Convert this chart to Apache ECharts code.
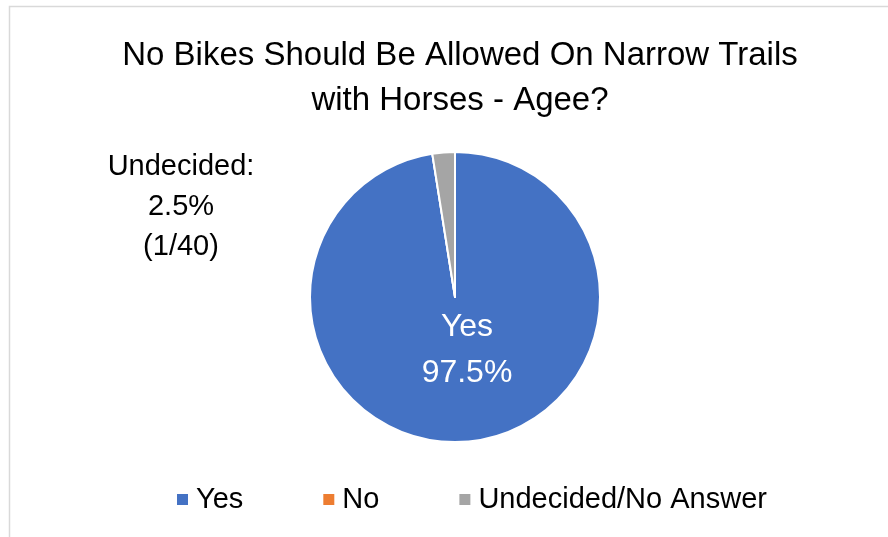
<!DOCTYPE html>
<html><head><meta charset="utf-8">
<script src="https://cdn.jsdelivr.net/npm/echarts@6/dist/echarts.min.js"></script>
<style>html,body{margin:0;padding:0;background:#fff}#c{width:888px;height:537px}</style>
</head><body><div id="c"></div>
<script>
const categories = ['Yes', 'No', 'Undecided/No Answer'];
const values = [39, 0, 1];
const colors = ['#4472C4', '#ED7D31', '#A5A5A5'];
const titleText = 'No Bikes Should Be Allowed On Narrow Trails\nwith Horses - Agee?';
const total = values.reduce((a, b) => a + b, 0);

const chart = echarts.init(document.getElementById('c'));
const FONT = 'Liberation Sans';
chart.setOption({
  animation: false,
  graphic: [{
    type: 'rect', shape: {x: 9.5, y: 6.5, width: 900, height: 600},
    style: {fill: 'none', stroke: '#d9d9d9', lineWidth: 1.5}, silent: true, z: -1
  }],
  title: {
    text: titleText, left: 455, textAlign: 'center', top: 28,
    textStyle: {fontFamily: FONT, fontSize: 33, fontWeight: 'normal', color: '#000', lineHeight: 45}
  },
  legend: {
    bottom: 18, left: 170, itemWidth: 13, itemHeight: 13, itemGap: 78, icon: 'rect',
    textStyle: {fontFamily: FONT, fontSize: 29, color: '#000', padding: [0, 0, 0, 2]},
    data: categories
  },
  series: [{
    type: 'pie', center: [455, 297], radius: [0, 145], startAngle: 90, clockwise: true,
    avoidLabelOverlap: false, stillShowZeroSum: true,
    itemStyle: {borderColor: '#fff', borderWidth: 2},
    data: categories.map((c, i) => ({
      name: c, value: values[i], itemStyle: {color: colors[i]},
      label: i === 0 ? {
        show: true, position: 'inner', color: '#fff', fontFamily: FONT, fontSize: 32, lineHeight: 46,
        formatter: p => 'Yes\n' + (p.value / total * 100).toFixed(1) + '%'
      } : i === 2 ? {
        show: true, position: 'outside', color: '#000', fontFamily: FONT, fontSize: 29, lineHeight: 40,
        align: 'center',
        formatter: p => 'Undecided:\n' + (p.value / total * 100).toFixed(1) + '%\n(' + p.value + '/' + total + ')'
      } : {show: false},
      labelLine: {show: false}
    })),
    labelLayout: function (p) {
      if (p.dataIndex === 2) return {x: 181, y: 207, align: 'center', verticalAlign: 'middle'};
      if (p.dataIndex === 0) return {x: 467, y: 350, align: 'center', verticalAlign: 'middle'};
      return {};
    }
  }]
});
</script></body></html>
